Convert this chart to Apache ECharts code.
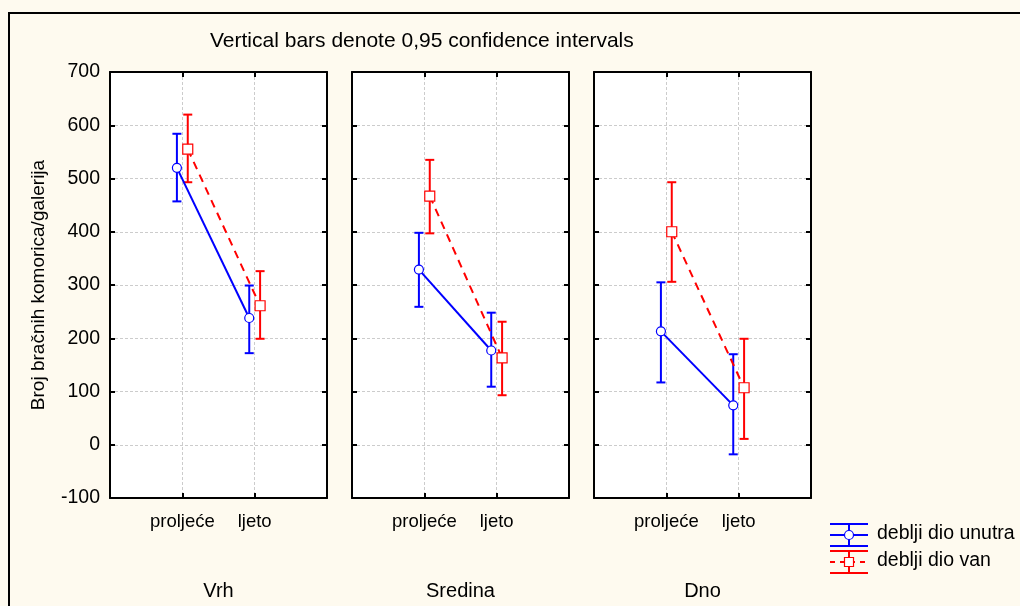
<!DOCTYPE html>
<html>
<head>
<meta charset="utf-8">
<script src="https://cdn.jsdelivr.net/npm/echarts@6/dist/echarts.min.js"></script>
<style>
html,body{margin:0;padding:0;background:#fefaef;}
#main{width:1020px;height:606px;}
</style>
</head>
<body>
<div id="main"></div>
<script>
// ---- data ----
const categories = ['proljeće', 'ljeto'];
const panels = ['Vrh', 'Sredina', 'Dno'];
const seriesNames = ['deblji dio unutra', 'deblji dio van'];
const unutraMean = [[520, 238], [329, 177], [213, 74]];
const unutraLow  = [[457, 172], [259, 109], [117, -18]];
const unutraHigh = [[584, 299], [398, 248], [305, 170]];
const vanMean = [[555, 261], [467, 163], [400, 107]];
const vanLow  = [[493, 199], [397, 93], [306, 11]];
const vanHigh = [[620, 326], [535, 231], [493, 199]];
const yTicks = [-100, 0, 100, 200, 300, 400, 500, 600, 700];
const titleText = 'Vertical bars denote 0,95 confidence intervals';
const yAxisName = 'Broj bračnih komorica/galerija';

// ---- layout ----
const FONT = 'Liberation Sans, Arial, sans-serif';
const gridLefts = [110, 352, 594];
const gridW = 217, gridTop = 72, gridH = 428;
const OFF = 0.075;
const BLUE = '#0000ff', RED = '#ff0000';

const chart = echarts.init(document.getElementById('main'));

const grids = [], xAxes = [], yAxes = [], series = [];
const gridLine = {show: true, lineStyle: {color: '#cccccc', type: [3, 2], width: 1}};
const axLine = {show: true, onZero: false, lineStyle: {color: '#000', width: 2}};
const tick = {show: true, inside: true, length: 5, lineStyle: {color: '#000', width: 2}};

panels.forEach((p, i) => {
  grids.push({left: gridLefts[i], top: gridTop, width: gridW, height: gridH,
    show: true, backgroundColor: '#ffffff', borderWidth: 0});
  xAxes.push({type: 'value', gridIndex: i, min: 0, max: 3, interval: 1, position: 'bottom',
    axisLine: axLine, axisTick: tick,
    splitLine: gridLine,
    name: p, nameLocation: 'middle', nameGap: 83,
    nameTextStyle: {fontFamily: FONT, fontSize: 20, color: '#000'},
    axisLabel: {margin: 14, fontFamily: FONT, fontSize: 18.5, color: '#000',
      formatter: v => (v >= 1 && v <= categories.length) ? categories[v - 1] : ''}});
  xAxes.push({type: 'value', gridIndex: i, min: 0, max: 3, interval: 1, position: 'top',
    axisLine: axLine, axisTick: tick,
    splitLine: {show: false}, axisLabel: {show: false}});
  yAxes.push({type: 'value', gridIndex: i, min: yTicks[0], max: yTicks[yTicks.length - 1], interval: 100,
    position: 'left',
    axisLine: axLine, axisTick: tick,
    splitLine: gridLine,
    name: i === 0 ? yAxisName : '', nameLocation: 'middle', nameGap: 62, nameRotate: 90,
    nameTextStyle: {fontFamily: FONT, fontSize: 19, color: '#000'},
    axisLabel: {show: i === 0, margin: 10, fontFamily: FONT, fontSize: 19.5, color: '#000'}});
  yAxes.push({type: 'value', gridIndex: i, min: yTicks[0], max: yTicks[yTicks.length - 1], interval: 100,
    position: 'right',
    axisLine: axLine, axisTick: tick,
    splitLine: {show: false}, axisLabel: {show: false}});

  const groups = [
    {name: seriesNames[0], mean: unutraMean[i], low: unutraLow[i], high: unutraHigh[i], off: -OFF, color: BLUE, symbol: 'circle', dash: 'solid'},
    {name: seriesNames[1], mean: vanMean[i], low: vanLow[i], high: vanHigh[i], off: OFF, color: RED, symbol: 'rect', dash: [8, 6]}
  ];
  groups.forEach(g => {
    series.push({
      type: 'custom', name: g.name, xAxisIndex: i * 2, yAxisIndex: i * 2, z: 2,
      data: categories.map((c, k) => [k + 1 + g.off, g.low[k], g.high[k]]),
      renderItem: (params, api) => {
        const x = api.value(0);
        const a = api.coord([x, api.value(1)]);
        const b = api.coord([x, api.value(2)]);
        const w = 4.5;
        const st = {stroke: g.color, lineWidth: 2};
        return {type: 'group', children: [
          {type: 'line', shape: {x1: a[0], y1: a[1], x2: b[0], y2: b[1]}, style: st},
          {type: 'line', shape: {x1: a[0] - w, y1: a[1], x2: a[0] + w, y2: a[1]}, style: st},
          {type: 'line', shape: {x1: b[0] - w, y1: b[1], x2: b[0] + w, y2: b[1]}, style: st}
        ]};
      }
    });
  });
  groups.forEach(g => {
    series.push({
      type: 'line', name: g.name, xAxisIndex: i * 2, yAxisIndex: i * 2, z: 3,
      data: categories.map((c, k) => [k + 1 + g.off, g.mean[k]]),
      symbol: g.symbol, symbolSize: g.symbol === 'circle' ? 9 : 10,
      showAllSymbol: true,
      lineStyle: {color: g.color, width: 2, type: g.dash},
      itemStyle: {color: '#ffffff', borderColor: g.color, borderWidth: 1.2},
      emphasis: {disabled: true}, animation: false
    });
  });
});

// legend (drawn as graphics)
function legendIcon(y, color, dashed, square) {
  const cx = 849, x1 = 830, x2 = 868;
  const st = {stroke: color, lineWidth: 2};
  const els = [
    {type: 'line', shape: {x1: x1, y1: y - 11, x2: x2, y2: y - 11}, style: st},
    {type: 'line', shape: {x1: x1, y1: y + 11, x2: x2, y2: y + 11}, style: st},
    {type: 'line', shape: {x1: cx, y1: y - 11, x2: cx, y2: y + 11}, style: st},
    {type: 'line', shape: {x1: x1, y1: y, x2: x2, y2: y}, style: {stroke: color, lineWidth: 2, lineDash: dashed ? [5, 5] : null}}
  ];
  if (square) els.push({type: 'rect', shape: {x: cx - 4.5, y: y - 4.5, width: 9, height: 9}, style: {fill: '#fff', stroke: color, lineWidth: 1.2}});
  else els.push({type: 'circle', shape: {cx: cx, cy: y, r: 4.5}, style: {fill: '#fff', stroke: color, lineWidth: 1.2}});
  return els;
}

const graphic = [
  {type: 'rect', shape: {x: 9, y: 13, width: 1100, height: 700}, style: {fill: null, stroke: '#000', lineWidth: 2}, z: -1, silent: true},
  {type: 'text', left: 210, top: 31, style: {text: titleText, fontFamily: FONT, fontSize: 21, fill: '#000'}},
  ...legendIcon(535, BLUE, false, false),
  ...legendIcon(562, RED, true, true),
  {type: 'text', left: 877, top: 524, style: {text: seriesNames[0], fontFamily: FONT, fontSize: 19.5, fill: '#000'}},
  {type: 'text', left: 877, top: 551, style: {text: seriesNames[1], fontFamily: FONT, fontSize: 19.5, fill: '#000'}}
];

chart.setOption({
  backgroundColor: '#fefaef',
  animation: false,
  grid: grids, xAxis: xAxes, yAxis: yAxes, series: series, graphic: graphic
});
</script>
</body>
</html>
